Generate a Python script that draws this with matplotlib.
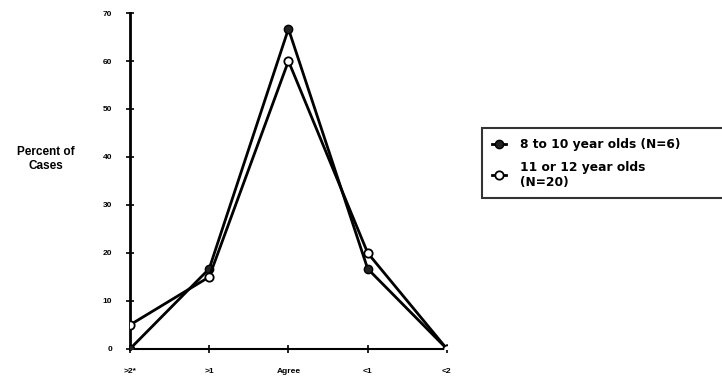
import matplotlib
matplotlib.use("Agg")
import matplotlib.pyplot as plt

categories = [">2*", ">1", "Agree", "<1", "<2"]
young = [0, 16.7, 66.7, 16.7, 0]      # 8 to 10 year olds (N=6)
older = [5, 15, 60, 20, 0]            # 11 or 12 year olds (N=20)
yticks = [0, 10, 20, 30, 40, 50, 60, 70]

plt.rcParams['font.family'] = ['Liberation Sans', 'DejaVu Sans']
plt.rcParams['font.weight'] = 'bold'

fig = plt.figure(figsize=(7.22, 3.83), dpi=100)
ax = fig.add_axes([0.180, 0.089, 0.439, 0.877])

x = list(range(len(categories)))
ax.plot(x, young, color='black', lw=2, marker='o', ms=6,
        mfc='#222222', mec='black', label='8 to 10 year olds (N=6)', zorder=3)
ax.plot(x, older, color='black', lw=2, marker='o', ms=6,
        mfc='white', mec='black', mew=1.3, label='11 or 12 year olds\n(N=20)', zorder=4)

ax.set_xlim(0, 4)
ax.set_ylim(0, 70)
ax.set_xticks(x)
ax.set_xticklabels(categories, fontsize=6, fontweight='bold')
ax.set_yticks(yticks)
ax.set_yticklabels([str(v) for v in yticks], fontsize=6, fontweight='bold')
ax.tick_params(direction='inout', length=6, width=1.2)
ax.tick_params(axis='y', pad=10)
ax.tick_params(axis='x', pad=11)

for side in ['top', 'right']:
    ax.spines[side].set_visible(False)
ax.spines['left'].set_linewidth(2)
ax.spines['bottom'].set_linewidth(1.5)

fig.text(0.063, 0.585, "Percent of\nCases", ha='center', va='center',
         fontsize=8.5, fontweight='bold', linespacing=1.2)

# legend box runs past the right edge of the figure
leg = fig.legend(loc='upper left', mode='expand',
                 bbox_to_anchor=(482 / 722, 1 - 128 / 383, 0.36, 0.0),
                 frameon=True, fancybox=False,
                 prop={'family': 'DejaVu Sans', 'weight': 'bold', 'size': 8.8},
                 handlelength=1.2, borderpad=0.8, labelspacing=0.8,
                 handletextpad=1.1, borderaxespad=0)
leg.get_frame().set_edgecolor('black')
leg.get_frame().set_linewidth(1.5)

fig.savefig('out.png', dpi=100)
